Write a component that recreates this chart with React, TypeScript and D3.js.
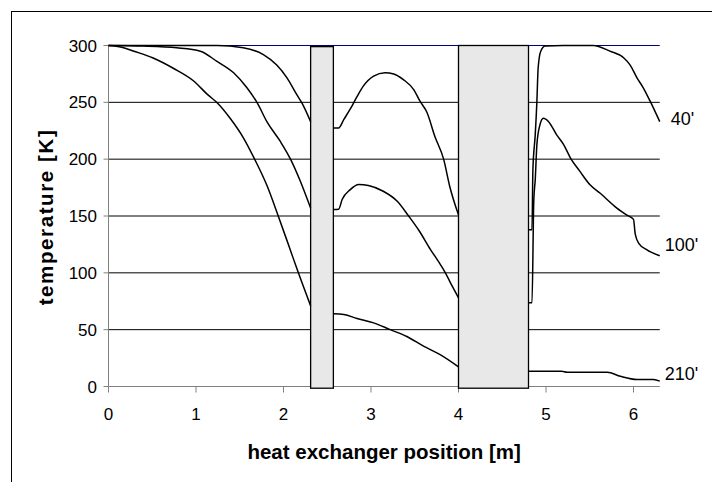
import React from 'react';
import * as d3 from 'd3';

type P = [number, number];

// axis ticks
const xTicks = [0, 1, 2, 3, 4, 5, 6];
const yTicks = [0, 50, 100, 150, 200, 250, 300];

// series names and the temperature at which each end label sits
const seriesNames = ["40'", "100'", "210'"];
const labelTemps = [230, 119, 6];

// insulating blocks (x range in m, top temperature)
const blockStart = [2.31, 4.0];
const blockEnd = [2.57, 4.8];
const blockTop = [299, 300];
const blockBottom = -1.5;

// 40 minutes
const t40a: P[] = [[0, 300], [0.6, 300], [1.24, 300], [1.54, 298], [1.77, 292], [1.92, 283], [2.04, 271.5], [2.15, 257], [2.21, 249.5], [2.31, 233]];
const t40b: P[] = [[2.57, 227.5], [2.63, 227.5], [2.69, 235], [2.76, 243.7], [2.84, 255], [2.91, 264], [3.03, 273], [3.16, 276], [3.26, 275], [3.37, 270], [3.49, 261], [3.56, 251], [3.64, 241], [3.73, 220], [3.83, 200], [3.9, 176], [4.0, 151]];
const t40c: P[] = [[4.8, 138], [4.84, 138], [4.85, 190], [4.877, 221.6], [4.896, 251], [4.91, 280], [4.94, 295], [4.99, 299.5], [5.2, 300], [5.54, 300], [5.73, 295], [5.89, 289], [5.96, 283], [6.04, 271.5], [6.11, 263], [6.19, 251], [6.3, 233]];

// 100 minutes
const t100a: P[] = [[0, 300], [0.4, 299.5], [0.78, 298], [1.05, 295], [1.24, 286], [1.43, 276], [1.58, 263], [1.7, 249.5], [1.81, 233], [1.96, 216], [2.08, 200], [2.19, 181], [2.31, 157]];
const t100b: P[] = [[2.57, 155.7], [2.63, 156], [2.67, 164.5], [2.76, 173], [2.86, 177.7], [2.97, 176.8], [3.14, 171.8], [3.3, 163], [3.43, 150], [3.55, 137], [3.68, 120.5], [3.77, 110], [3.85, 100], [3.93, 88], [4.0, 78]];
const t100c: P[] = [[4.8, 73.6], [4.84, 73.6], [4.86, 163], [4.877, 182], [4.896, 213], [4.93, 230], [4.97, 236], [5.03, 233], [5.12, 221.6], [5.2, 213], [5.28, 201], [5.39, 189], [5.5, 177.7], [5.62, 170], [5.81, 157], [5.92, 151], [6.0, 147], [6.02, 134], [6.06, 126], [6.15, 120.5], [6.3, 115]];

// 210 minutes
const t210a: P[] = [[0, 300], [0.15, 298.5], [0.29, 295], [0.51, 289], [0.74, 280], [0.97, 269], [1.13, 257], [1.25, 249], [1.39, 236], [1.54, 219], [1.67, 200], [1.81, 177], [1.94, 150], [2.06, 124], [2.17, 100], [2.31, 71]];
const t210b: P[] = [[2.57, 64], [2.69, 63.3], [2.84, 59.8], [3.03, 56], [3.22, 50], [3.41, 44], [3.6, 35.5], [3.79, 28], [4.0, 17.3]];
const t210c: P[] = [[4.8, 13.5], [5.18, 13.5], [5.24, 12.6], [5.7, 12.6], [5.85, 9], [6.04, 6.2], [6.23, 6.2], [6.3, 4.7]];

const series: P[][][] = [
  [t40a, t40b, t40c],
  [t100a, t100b, t100c],
  [t210a, t210b, t210c],
];

const W = 712;
const H = 482;
const FONT = "'Liberation Sans', Arial, sans-serif";

export default function App() {
  const x = d3.scaleLinear().domain([0, 6.3]).range([108.5, 659.75]);
  const y = d3.scaleLinear().domain([0, 300]).range([386.5, 45.5]);
  const line = d3
    .line<P>()
    .x((d) => x(d[0]))
    .y((d) => y(d[1]))
    .curve(d3.curveMonotoneX);

  const [x0, x1] = x.range();

  return (
    <svg
      width={W}
      height={H}
      style={{ position: 'absolute', left: 0, top: 0, background: '#fff' }}
      fontFamily={FONT}
    >
      <rect x={0} y={0} width={W} height={H} fill="#fff" />
      {/* outer frame */}
      <rect x={11.5} y={11.5} width={900} height={700} fill="none" stroke="#000" strokeWidth={1} />

      {/* gridlines */}
      {yTicks.filter((t) => t > 0).map((t) => (
        <line key={t} x1={x0} x2={x1} y1={y(t)} y2={y(t)} stroke={t === 300 ? '#000080' : '#000'} strokeWidth={1} />
      ))}

      {/* axes */}
      <line x1={x0} x2={x0} y1={y(300)} y2={y(0)} stroke="#808080" />
      <line x1={x0} x2={x1} y1={y(0)} y2={y(0)} stroke="#808080" />
      {yTicks.map((t) => (
        <g key={'y' + t}>
          <line x1={x0 - 5} x2={x0} y1={y(t)} y2={y(t)} stroke="#808080" />
          <text x={97} y={y(t) + 6} textAnchor="end" fontSize={17} fill="#000">{t}</text>
        </g>
      ))}
      {xTicks.map((t) => (
        <g key={'x' + t}>
          <line x1={x(t)} x2={x(t)} y1={y(0)} y2={y(0) + 6} stroke="#808080" />
          <text x={x(t)} y={420} textAnchor="middle" fontSize={17} fill="#000">{t}</text>
        </g>
      ))}

      {/* blocks */}
      {blockStart.map((b, i) => (
        <rect
          key={'b' + i}
          x={x(b)}
          y={y(blockTop[i])}
          width={x(blockEnd[i]) - x(b)}
          height={y(blockBottom) - y(blockTop[i])}
          fill="#e8e8e8"
          stroke="#000"
          strokeWidth={1.3}
        />
      ))}

      {/* curves */}
      {series.map((segs, i) =>
        segs.map((s, j) => (
          <path key={`s${i}-${j}`} d={line(s) || ''} fill="none" stroke="#000" strokeWidth={1.5} />
        ))
      )}

      {/* end labels */}
      {seriesNames.map((n, i) => (
        <text key={n} x={x(6.3) + (i === 0 ? 11 : 5)} y={y(labelTemps[i])} fontSize={18} fill="#000">{n}</text>
      ))}

      {/* titles */}
      <text x={(x0 + x1) / 2} y={459} textAnchor="middle" fontSize={20.5} fontWeight="bold" fill="#000">
        heat exchanger position [m]
      </text>
      <text
        transform={`translate(53,${(y(0) + y(300)) / 2 + 1}) rotate(-90)`}
        textAnchor="middle"
        fontSize={20.5}
        fontWeight="bold"
        letterSpacing={1.6}
        fill="#000"
      >
        temperature [K]
      </text>
    </svg>
  );
}
